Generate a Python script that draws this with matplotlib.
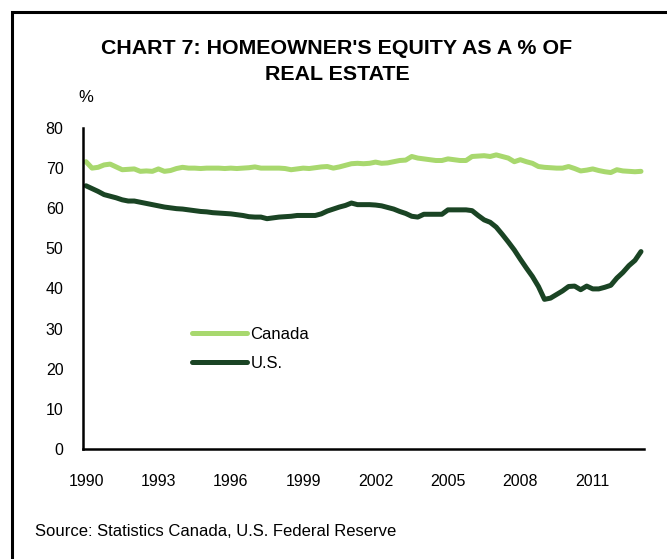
import numpy as np
import matplotlib
matplotlib.use("Agg")
import matplotlib.pyplot as plt
from matplotlib.patches import Rectangle

plt.rcParams['font.family'] = ['Liberation Sans', 'DejaVu Sans']

# quarterly data, 1990Q1 - 2013Q1
canada = [71.6, 70.0, 70.2, 70.8,
          71.0, 70.3, 69.6, 69.7,
          69.8, 69.2, 69.3, 69.2,
          69.8, 69.2, 69.4, 69.9,
          70.2, 70.0, 70.0, 69.9,
          70.0, 70.0, 70.0, 69.9,
          70.0, 69.9, 70.0, 70.1,
          70.3, 70.0, 70.0, 70.0,
          70.0, 69.9, 69.6, 69.8,
          70.0, 69.9, 70.1, 70.3,
          70.4, 70.0, 70.3, 70.7,
          71.1, 71.2, 71.1, 71.2,
          71.5, 71.2, 71.3, 71.6,
          71.9, 72.0, 72.9, 72.5,
          72.3, 72.1, 71.9, 71.9,
          72.3, 72.1, 71.9, 71.9,
          72.9, 73.0, 73.1, 72.9,
          73.3, 72.9, 72.5, 71.6,
          72.1, 71.6, 71.2, 70.4,
          70.2, 70.1, 70.0, 70.0,
          70.4, 69.9, 69.3, 69.5,
          69.8, 69.4, 69.1, 68.9,
          69.6, 69.3, 69.2, 69.1,
          69.2]

us = [65.6, 64.9, 64.2, 63.4,
      63.0, 62.6, 62.1, 61.8,
      61.8, 61.5, 61.2, 60.9,
      60.6, 60.3, 60.1, 59.9,
      59.8, 59.6, 59.4, 59.2,
      59.1, 58.9, 58.8, 58.7,
      58.6, 58.4, 58.2, 57.9,
      57.8, 57.8, 57.4, 57.6,
      57.8, 57.9, 58.0, 58.2,
      58.2, 58.2, 58.2, 58.6,
      59.3, 59.8, 60.3, 60.7,
      61.3, 60.9, 60.9, 60.9,
      60.8, 60.6, 60.2, 59.8,
      59.2, 58.7, 58.0, 57.8,
      58.5, 58.5, 58.5, 58.5,
      59.6, 59.6, 59.6, 59.6,
      59.4, 58.2, 57.1, 56.5,
      55.3, 53.5, 51.6, 49.6,
      47.3, 45.1, 43.0, 40.5,
      37.3, 37.6, 38.5, 39.4,
      40.5, 40.6, 39.7, 40.6,
      39.9, 39.9, 40.3, 40.8,
      42.6, 44.0, 45.7, 47.0,
      49.2]

years = 1990 + np.arange(len(canada)) * 0.25
tick_years = [1990, 1993, 1996, 1999, 2002, 2005, 2008, 2011]

W, H = 667, 559
fig = plt.figure(figsize=(W / 100, H / 100), dpi=100)
ax = fig.add_axes([83 / W, 1 - 449 / H, (644 - 83) / W, (449 - 128) / H])

ax.plot(years, canada, color='#a8d86e', lw=3.6, label='Canada', solid_capstyle='round')
ax.plot(years, us, color='#1a4424', lw=3.6, label='U.S.', solid_capstyle='round')

ax.set_xlim(1990 - 0.125, 2013 + 0.125)
ax.set_ylim(0, 80)
ax.set_yticks(range(0, 81, 10))
ax.set_xticks(tick_years)
ax.tick_params(length=0, labelsize=11.5)
ax.tick_params(axis='y', pad=14)
ax.tick_params(axis='x', pad=18)
for s in ['top', 'right']:
    ax.spines[s].set_visible(False)
for s in ['left', 'bottom']:
    ax.spines[s].set_linewidth(1.8)

ax.legend(loc='upper left', bbox_to_anchor=(192 / W, 1 - 327 / H),
          bbox_transform=fig.transFigure, frameon=False, fontsize=12,
          handlelength=3.3, handletextpad=0.2, labelspacing=0.85,
          borderpad=0, borderaxespad=0)

fig.text(337 / W, 1 - 48 / H, "CHART 7: HOMEOWNER'S EQUITY AS A % OF",
         ha='center', va='center', fontsize=15.4, fontweight='bold')
fig.text(337 / W, 1 - 74 / H, "REAL ESTATE",
         ha='center', va='center', fontsize=15.4, fontweight='bold')
fig.text(86 / W, 1 - 98 / H, "%", ha='center', va='center', fontsize=12)
fig.text(35 / W, 1 - 531 / H, "Source: Statistics Canada, U.S. Federal Reserve",
         ha='left', va='center', fontsize=12)

# outer frame
fig.patches.append(Rectangle((12 / W, -0.1), 1.2, 1.1 - 12 / H, fill=False,
                             edgecolor='black', lw=2.2, transform=fig.transFigure))

fig.savefig('out.png', dpi=100)
